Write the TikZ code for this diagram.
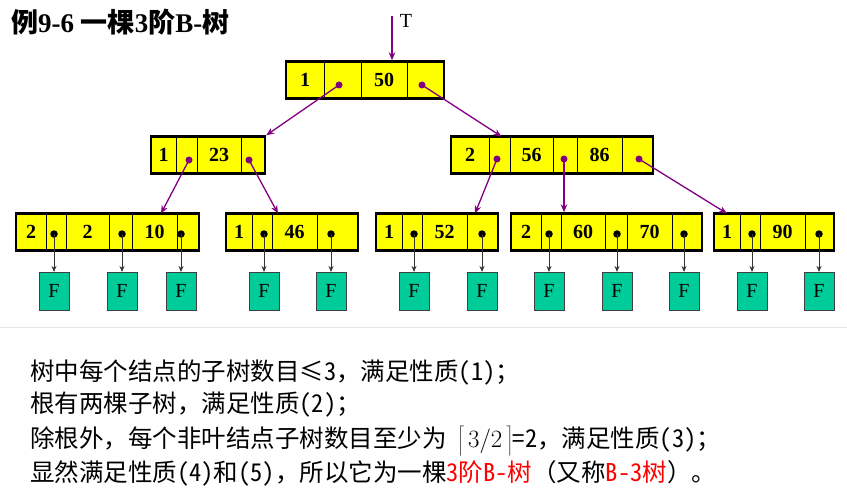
\documentclass[tikz,border=0pt]{standalone}
\usepackage{fontspec}
\setmainfont{Liberation Serif}
\newfontfamily\cjk{Noto Sans CJK SC}
\newfontfamily\cjkhalf[RawFeature=+hwid]{Noto Sans CJK SC}
\newcommand\hw[1]{{\cjkhalf #1}}
\usetikzlibrary{
    arrows.meta,
    positioning,
    fit
}
\definecolor{linkpurple}{RGB}{128,0,128}
\definecolor{keyyellow}{RGB}{255,255,0}
\definecolor{failgreen}{RGB}{0,204,153}

\begin{document}
\begin{tikzpicture}[
    x=1pt, y=-1pt,
    cell/.style={
        draw,
        line width=0.8pt,
        fill=keyyellow,
        inner sep=0pt,
        outer sep=0pt,
        minimum height=37pt,
        font=\bfseries\fontsize{20}{20}\selectfont
    },
    frame/.style={
        draw,
        line width=2.4pt,
        inner sep=0pt
    },
    pdot/.style={
        circle,
        fill=linkpurple,
        inner sep=0pt,
        minimum size=7pt
    },
    ldot/.style={
        circle,
        fill=black,
        inner sep=0pt,
        minimum size=7.5pt
    },
    failbox/.style={
        draw=black!75,
        line width=1pt,
        fill=failgreen,
        inner sep=0pt,
        minimum width=30pt,
        minimum height=38pt,
        font=\fontsize{20}{20}\selectfont
    },
    textline/.style={
        anchor=west,
        inner sep=0pt,
        font=\cjk\fontsize{24.5}{28}\selectfont
    },
    link/.style={
        -{Stealth[length=8pt,width=6.5pt]},
        draw=linkpurple,
        line width=1.3pt
    },
    nil/.style={
        -{Stealth[length=6pt,width=5pt]},
        draw=black!80,
        line width=1pt
    }
]
\useasboundingbox (0,0) rectangle (847,503);

% Titel
\node[anchor=west, inner sep=0pt, font=\bfseries\fontsize{27}{30}\selectfont] (title) at (11,22)
    {{\cjk 例}9-6 {\cjk 一棵}3{\cjk 阶}B-{\cjk 树}};

% Wurzel
\node[cell, minimum width=38pt, anchor=west] (root1) at (286,80) {1};
\node[cell, minimum width=37pt, right=0pt of root1] (root2) {};
\node[cell, minimum width=46pt, right=0pt of root2] (root3) {50};
\node[cell, minimum width=37pt, right=0pt of root3] (root4) {};
\node[frame, fit=(root1)(root4)] (root) {};
\node[pdot] (rd1) at (339,85) {};
\node[pdot] (rd2) at (422,85) {};

\coordinate (ttop) at (392,16);
\node[font=\fontsize{20}{20}\selectfont, inner sep=0pt] (tlabel) at (406,21) {T};

% zweite Ebene
\node[cell, minimum width=25pt, anchor=west] (left1) at (151,155) {1};
\node[cell, minimum width=21pt, right=0pt of left1] (left2) {};
\node[cell, minimum width=44pt, right=0pt of left2] (left3) {23};
\node[cell, minimum width=24pt, right=0pt of left3] (left4) {};
\node[frame, fit=(left1)(left4)] (left) {};
\node[pdot] (ld1) at (189,160) {};
\node[pdot] (ld2) at (249,160) {};

\node[cell, minimum width=38pt, anchor=west] (right1) at (451,155) {2};
\node[cell, minimum width=21pt, right=0pt of right1] (right2) {};
\node[cell, minimum width=43pt, right=0pt of right2] (right3) {56};
\node[cell, minimum width=24pt, right=0pt of right3] (right4) {};
\node[cell, minimum width=45pt, right=0pt of right4] (right5) {86};
\node[cell, minimum width=31pt, right=0pt of right5] (right6) {};
\node[frame, fit=(right1)(right6)] (right) {};
\node[pdot] (qd1) at (497,159) {};
\node[pdot] (qd2) at (564,159) {};
\node[pdot] (qd3) at (639,159) {};

% Blaetter
\node[cell, minimum width=30pt, anchor=west] (leafa1) at (16,232) {2};
\node[cell, minimum width=20pt, right=0pt of leafa1] (leafa2) {};
\node[cell, minimum width=43pt, right=0pt of leafa2] (leafa3) {2};
\node[cell, minimum width=23pt, right=0pt of leafa3] (leafa4) {};
\node[cell, minimum width=45pt, right=0pt of leafa4] (leafa5) {10};
\node[cell, minimum width=22pt, right=0pt of leafa5] (leafa6) {};
\node[frame, fit=(leafa1)(leafa6)] (leafa) {};

\node[cell, minimum width=26pt, anchor=west] (leafb1) at (226,232) {1};
\node[cell, minimum width=20pt, right=0pt of leafb1] (leafb2) {};
\node[cell, minimum width=45pt, right=0pt of leafb2] (leafb3) {46};
\node[cell, minimum width=41pt, right=0pt of leafb3] (leafb4) {};
\node[frame, fit=(leafb1)(leafb4)] (leafb) {};

\node[cell, minimum width=26pt, anchor=west] (leafc1) at (376,232) {1};
\node[cell, minimum width=20pt, right=0pt of leafc1] (leafc2) {};
\node[cell, minimum width=45pt, right=0pt of leafc2] (leafc3) {52};
\node[cell, minimum width=31pt, right=0pt of leafc3] (leafc4) {};
\node[frame, fit=(leafc1)(leafc4)] (leafc) {};

\node[cell, minimum width=30pt, anchor=west] (leafd1) at (511,232) {2};
\node[cell, minimum width=20pt, right=0pt of leafd1] (leafd2) {};
\node[cell, minimum width=44pt, right=0pt of leafd2] (leafd3) {60};
\node[cell, minimum width=22pt, right=0pt of leafd3] (leafd4) {};
\node[cell, minimum width=45pt, right=0pt of leafd4] (leafd5) {70};
\node[cell, minimum width=30pt, right=0pt of leafd5] (leafd6) {};
\node[frame, fit=(leafd1)(leafd6)] (leafd) {};

\node[cell, minimum width=26pt, anchor=west] (leafe1) at (714,232) {1};
\node[cell, minimum width=20pt, right=0pt of leafe1] (leafe2) {};
\node[cell, minimum width=45pt, right=0pt of leafe2] (leafe3) {90};
\node[cell, minimum width=29pt, right=0pt of leafe3] (leafe4) {};
\node[frame, fit=(leafe1)(leafe4)] (leafe) {};

% Zeiger der Blaetter
\node[ldot] (ad1) at (54,234) {};
\node[ldot] (ad2) at (122,234) {};
\node[ldot] (ad3) at (181,234) {};
\node[ldot] (bd1) at (264,234) {};
\node[ldot] (bd2) at (331,234) {};
\node[ldot] (cd1) at (414,234) {};
\node[ldot] (cd2) at (482,234) {};
\node[ldot] (dd1) at (549,234) {};
\node[ldot] (dd2) at (617,234) {};
\node[ldot] (dd3) at (684,234) {};
\node[ldot] (ed1) at (752,234) {};
\node[ldot] (ed2) at (819,234) {};

% F-Knoten
\node[failbox, below=34pt of ad1] (fa1) {F};
\node[failbox, below=34pt of ad2] (fa2) {F};
\node[failbox, below=34pt of ad3] (fa3) {F};
\node[failbox, below=34pt of bd1] (fb1) {F};
\node[failbox, below=34pt of bd2] (fb2) {F};
\node[failbox, below=34pt of cd1] (fc1) {F};
\node[failbox, below=34pt of cd2] (fc2) {F};
\node[failbox, below=34pt of dd1] (fd1) {F};
\node[failbox, below=34pt of dd2] (fd2) {F};
\node[failbox, below=34pt of dd3] (fd3) {F};
\node[failbox, below=34pt of ed1] (fe1) {F};
\node[failbox, below=34pt of ed2] (fe2) {F};

% Verweise
\draw[link] (ttop) -- (ttop |- root.north);
\draw[link] (rd1.center) -- (left.north east);
\draw[link] (rd2.center) -- ([xshift=2pt]right2.north);
\draw[link] (ld1.center) -- ([xshift=29pt]leafa5.north west);
\draw[link] (ld2.center) -- ([xshift=6pt]leafb3.north west);
\draw[link] (qd1.center) -- ([xshift=8pt]leafc4.north west);
\draw[link] (qd2.center) -- (qd2 |- leafd.north);
\draw[link] (qd3.center) -- (leafe1.north);

\draw[nil] (ad1.center) -- (fa1);
\draw[nil] (ad2.center) -- (fa2);
\draw[nil] (ad3.center) -- (fa3);
\draw[nil] (bd1.center) -- (fb1);
\draw[nil] (bd2.center) -- (fb2);
\draw[nil] (cd1.center) -- (fc1);
\draw[nil] (cd2.center) -- (fc2);
\draw[nil] (dd1.center) -- (fd1);
\draw[nil] (dd2.center) -- (fd2);
\draw[nil] (dd3.center) -- (fd3);
\draw[nil] (ed1.center) -- (fe1);
\draw[nil] (ed2.center) -- (fe2);

% Trennlinie
\draw[black!10, line width=1pt] (0,327) -- (847,327);

% Erlaeuterung
\node[textline] (line1) at (30,373) {树中每个结点的子树数目≤\hw{3}，满足性质\hw{(1)}；};
\node[textline] (line2) at (30,405) {根有两棵子树，满足性质\hw{(2)}；};
\node[textline] (line3) at (30,441) {除根外，每个非叶结点子树数目至少为\ \ $\left\lceil\rule[-9pt]{0pt}{31pt}\,3/2\,\right\rceil$\hw{=2}，满足性质\hw{(3)}；};
\node[textline] (line4) at (30,473) {显然满足性质\hw{(4)}和\hw{(5)}，所以它为一棵\textcolor{red}{\hw{3}阶\hw{B-}树}（又称\textcolor{red}{\hw{B-3}树}）。};

\end{tikzpicture}
\end{document}
